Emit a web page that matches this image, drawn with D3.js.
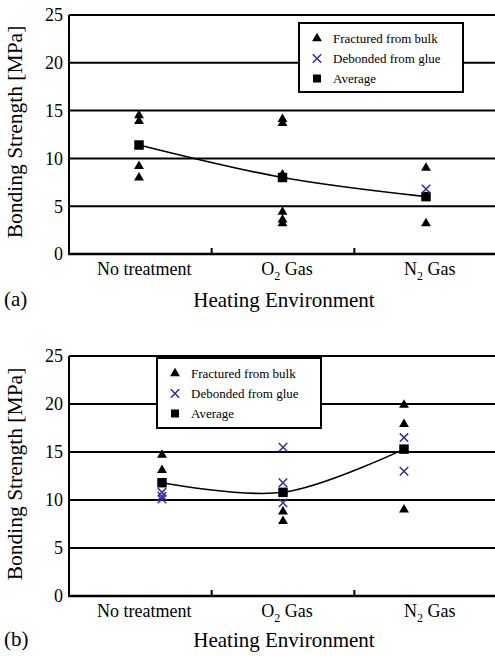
<!DOCTYPE html>
<html><head><meta charset="utf-8">
<script src="https://cdn.jsdelivr.net/npm/d3@7"></script>
<style>body{margin:0;background:#fff}svg{display:block}</style>
</head><body><svg id="c" width="495" height="656" font-family="'Liberation Serif', 'Times New Roman', Times, 'DejaVu Serif', serif"></svg>
<script>
const categories = ["No treatment", "O2 Gas", "N2 Gas"];
const yTicks = [0, 5, 10, 15, 20, 25];
const legendLabels = ["Fractured from bulk", "Debonded from glue", "Average"];
// panel (a)
const bulkA = [[14.6, 14.0, 9.3, 8.1], [14.2, 13.8, 8.4, 4.5, 3.7, 3.3], [9.1, 3.3]];
const glueA = [[], [], [6.8]];
const avgA = [11.4, 8.0, 6.0];
// panel (b)
const bulkB = [[14.8, 13.2], [8.9, 7.9], [20.0, 18.0, 9.1]];
const glueB = [[10.8, 10.4, 10.1], [15.5, 11.8, 9.7], [16.5, 13.0]];
const avgB = [11.8, 10.8, 15.3];

const svg = d3.select("#c");
const BLUE = "#2e2e9e";

function label(sel, txt) {
  const m = txt.match(/^([A-Z])2 (.*)$/);
  if (m) {
    sel.append("tspan").text(m[1]);
    sel.append("tspan").attr("font-size", "12px").attr("dy", 5).text("2");
    sel.append("tspan").attr("dy", -5).text(" " + m[2]);
  } else sel.text(txt);
}

function panel(cfg) {
  const g = svg.append("g");
  const y = d3.scaleLinear().domain([0, 25]).range([cfg.y0, cfg.y1]);
  const xb = d3.scaleBand().domain(categories).range([69, 497]);
  const xp = d3.scalePoint().domain(categories).range(cfg.pr);
  g.selectAll(".grid").data(yTicks.filter(d => d > 0)).join("line")
    .attr("x1", 69).attr("x2", 495).attr("y1", d => y(d)).attr("y2", d => y(d))
    .attr("stroke", "#000").attr("stroke-width", 2);
  g.append("line").attr("x1", 69).attr("x2", 69).attr("y1", y(0)).attr("y2", y(25)).attr("stroke", "#000").attr("stroke-width", 2);
  g.append("line").attr("x1", 68).attr("x2", 495).attr("y1", y(0)).attr("y2", y(0)).attr("stroke", "#000").attr("stroke-width", 2.5);
  g.selectAll(".ct").data(categories.slice(1)).join("line")
    .attr("x1", d => xb(d)).attr("x2", d => xb(d)).attr("y1", y(0)).attr("y2", y(0) - 6)
    .attr("stroke", "#000").attr("stroke-width", 2);
  g.selectAll(".yt").data(yTicks).join("text")
    .attr("x", 63).attr("y", d => y(d)).attr("dy", "0.35em").attr("text-anchor", "end")
    .attr("font-size", "18px").text(d => d);
  g.selectAll(".xl").data(categories).join("text")
    .attr("x", d => xb(d) + xb.bandwidth() / 2 + 4)
    .attr("y", y(0) + 21).attr("text-anchor", "middle").attr("font-size", "18px")
    .each(function (d) { label(d3.select(this), d); });
  g.append("text").attr("transform", `translate(22,${cfg.ty}) rotate(-90)`)
    .attr("text-anchor", "middle").attr("font-size", "21.5px").text("Bonding Strength [MPa]");
  g.append("text").attr("x", 284).attr("y", cfg.xt).attr("text-anchor", "middle")
    .attr("font-size", "21px").text("Heating Environment");
  g.append("text").attr("x", 4).attr("y", cfg.xt - 1).attr("font-size", "21px").text(cfg.tag);
  g.append("path").datum(cfg.avg)
    .attr("d", d3.line().x((d, i) => xp(categories[i])).y(d => y(d)).curve(d3.curveCatmullRom))
    .attr("fill", "none").attr("stroke", "#000").attr("stroke-width", 1.6);
  const tri = d3.symbol().type(d3.symbolTriangle).size(42)();
  const sq = d3.symbol().type(d3.symbolSquare).size(90)();
  const xx = d3.symbol().type(d3.symbolTimes).size(48)();
  g.selectAll(".avg").data(cfg.avg).join("path")
    .attr("d", sq).attr("transform", (d, i) => `translate(${xp(categories[i])},${y(d)})`).attr("fill", "#000");
  const bulk = cfg.bulk.flatMap((arr, i) => arr.map(v => [categories[i], v]));
  g.selectAll(".tri").data(bulk).join("path")
    .attr("d", tri).attr("transform", d => `translate(${xp(d[0])},${y(d[1]) + 1})`).attr("fill", "#000");
  const glue = cfg.glue.flatMap((arr, i) => arr.map(v => [categories[i], v]));
  g.selectAll(".gl").data(glue).join("path")
    .attr("d", xx).attr("transform", d => `translate(${xp(d[0])},${y(d[1])})`)
    .attr("fill", "none").attr("stroke", BLUE).attr("stroke-width", 1.5);
  const L = cfg.leg;
  const lg = g.append("g");
  lg.append("rect").attr("x", L.x).attr("y", L.y).attr("width", L.w).attr("height", L.h)
    .attr("fill", "#fff").attr("stroke", "#000").attr("stroke-width", 2);
  const syms = [tri, xx, sq];
  legendLabels.forEach((t, i) => {
    const cy = L.y + 15.5 + i * 20;
    lg.append("path").attr("d", i === 2 ? d3.symbol().type(d3.symbolSquare).size(64)() : syms[i])
      .attr("transform", `translate(${L.x + 18},${cy})`)
      .attr("fill", i === 1 ? "none" : "#000").attr("stroke", i === 1 ? BLUE : "none").attr("stroke-width", 1.5);
    lg.append("text").attr("x", L.x + 34).attr("y", cy).attr("dy", "0.35em").attr("font-size", "13px").text(t);
  });
}

panel({ y0: 254, y1: 15, pr: [139, 426], avg: avgA, bulk: bulkA, glue: glueA, ty: 132, xt: 307, tag: "(a)",
  leg: { x: 299, y: 23, w: 164, h: 69 } });
panel({ y0: 596, y1: 356, pr: [162, 404], avg: avgB, bulk: bulkB, glue: glueB, ty: 474, xt: 647, tag: "(b)",
  leg: { x: 157, y: 358, w: 164, h: 70 } });
</script></body></html>
